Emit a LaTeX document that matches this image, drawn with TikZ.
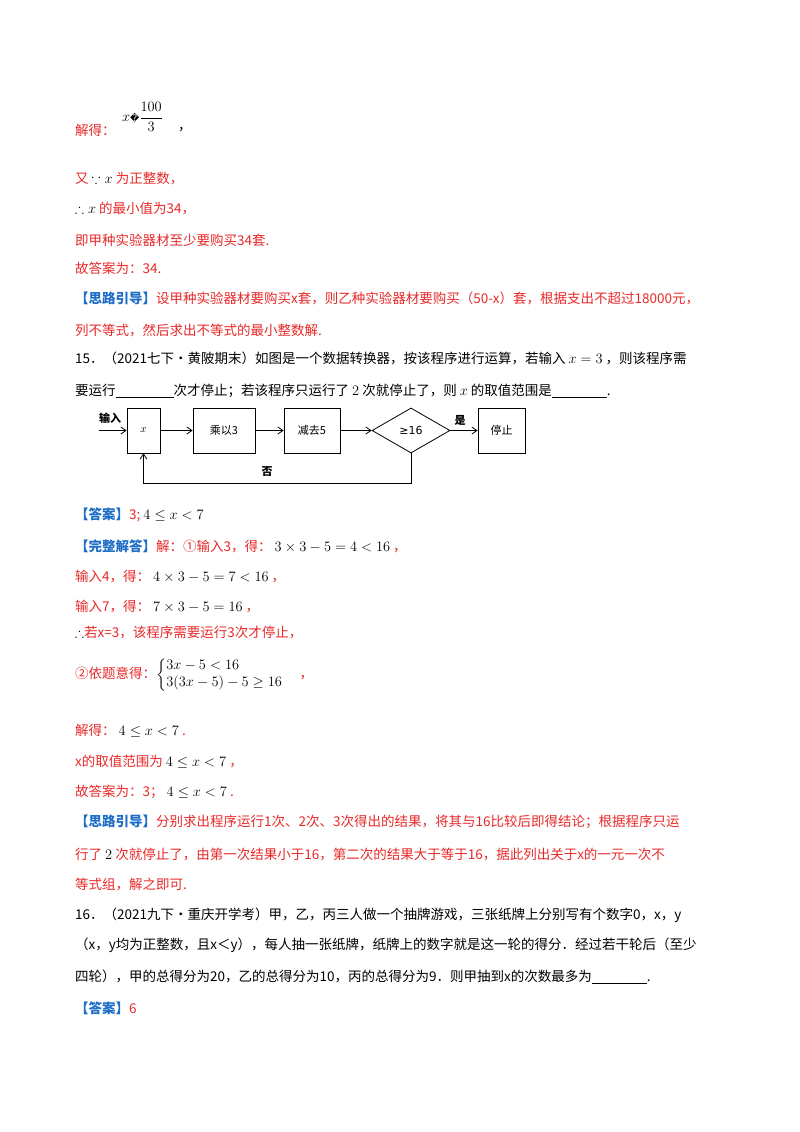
\documentclass[tikz,border=0pt]{standalone}
\usepackage{amsmath,amssymb}
\usepackage{fontspec}
\newfontfamily\cjk{Noto Sans CJK SC}
\newfontfamily\dejavu{DejaVu Sans}
\usetikzlibrary{shapes.geometric,arrows.meta}
\definecolor{rd}{RGB}{232,40,40}
\definecolor{bl}{RGB}{30,110,200}
\begin{document}
\begin{tikzpicture}[x=1pt,y=-1pt,
  t/.style={anchor=west,inner sep=0pt,font=\cjk\fontsize{13.5}{14}\selectfont},
  r/.style={t,text=rd},
  k/.style={t,text=black},
  box/.style={draw,line width=0.8pt,minimum height=45pt,inner sep=0pt,font=\cjk\fontsize{11}{12}\selectfont},
  arr/.style={-{Straight Barb[length=5pt,width=7pt]},line width=0.8pt}]
\useasboundingbox (0,0) rectangle (800,1132);
\node[r] (l1) at (75,130) {解得：};
\node[k,font=\fontsize{15}{16}\selectfont] (l1b) at (122,117) {$x$\dejavu{\small �}$\dfrac{100}{3}$};
\node[k] (l1c) at (178,130) {，};
\node[r] (l2) at (75,179) {又 {\color{black}$\because x$} 为正整数，};
\node[r] (l3) at (75,209) {{\color{black}$\therefore x$} 的最小值为34，};
\node[r] (l4) at (75,240) {即甲种实验器材至少要购买34套.};
\node[r] (l5) at (75,268) {故答案为：34.};
\node[r] (l6) at (75,298) {\textcolor{bl}{\textbf{【思路引导】}}设甲种实验器材要购买x套，则乙种实验器材要购买（50-x）套，根据支出不超过18000元，};
\node[r] (l7) at (75,330) {列不等式，然后求出不等式的最小整数解.};
\node[k] (l8) at (75,358) {15．（2021七下•黄陂期末）如图是一个数据转换器，按该程序进行运算，若输入 $x=3$ ，则该程序需};
\node[k] (l9) at (75,391) {要运行\underline{\hspace{58pt}}次才停止；若该程序只运行了 $2$ 次就停止了，则 $x$ 的取值范围是\underline{\hspace{55pt}}.};
% flowchart
\node[box,minimum width=33pt] (bx) at (143.5,430.5) {$x$};
\node[box,minimum width=62pt] (b3) at (224,430.5) {乘以3};
\node[box,minimum width=56pt] (b5) at (312,430.5) {减去5};
\node[draw,line width=0.8pt,diamond,aspect=1.75,minimum width=78pt,minimum height=45pt,inner sep=0pt,font=\cjk\fontsize{11}{12}\selectfont] (dm) at (411,430.5) {\dejavu ≥16};
\node[box,minimum width=47pt] (st) at (501.5,430.5) {停止};
\coordinate (in) at (99,430.5);
\coordinate (c1) at (411,483);
\coordinate (c2) at (143.5,483);
\draw[arr] (in) -- (bx.west);
\node[font=\cjk\bfseries\fontsize{11}{12}\selectfont] (lin) at (110,418) {输入};
\draw[arr] (bx) -- (b3);
\draw[arr] (b3) -- (b5);
\draw[arr] (b5) -- (dm);
\draw[arr] (dm) -- (st);
\node[font=\cjk\bfseries\fontsize{11}{12}\selectfont] (lyes) at (460,420) {是};
\draw[arr] (dm.south) -- (c1) -- (c2) -- (bx.south);
\node[font=\cjk\bfseries\fontsize{11}{12}\selectfont] (lno) at (267,472) {否};
% answers
\node[r] (a1) at (75,515) {\textcolor{bl}{\textbf{【答案】}}3; {\color{black}$4\le x<7$}};
\node[r] (a2) at (75,546) {\textcolor{bl}{\textbf{【完整解答】}}解：①输入3，得：\ {\color{black}$3\times3-5=4<16$} ，};
\node[r] (a3) at (75,577) {输入4，得：\ {\color{black}$4\times3-5=7<16$} ，};
\node[r] (a4) at (75,607) {输入7，得：\ {\color{black}$7\times3-5=16$} ，};
\node[r] (a5) at (75,633) {{\color{black}$\therefore$}若x=3，该程序需要运行3次才停止，};
\node[r] (a6) at (75,675) {②依题意得：{\color{black}$\begin{cases}3x-5<16\\3(3x-5)-5\ge16\end{cases}$} ，};
\node[r] (a7) at (75,731) {解得：\ {\color{black}$4\le x<7$} .};
\node[r] (a8) at (75,762) {x的取值范围为\ {\color{black}$4\le x<7$} ，};
\node[r] (a9) at (75,792) {故答案为：3；\ {\color{black}$4\le x<7$} .};
\node[r] (a10) at (75,822) {\textcolor{bl}{\textbf{【思路引导】}}分别求出程序运行1次、2次、3次得出的结果，将其与16比较后即得结论；根据程序只运};
\node[r] (a11) at (75,855) {行了 {\color{black}$2$} 次就停止了，由第一次结果小于16，第二次的结果大于等于16，据此列出关于x的一元一次不};
\node[r] (a12) at (75,885) {等式组，解之即可.};
\node[k] (q1) at (75,915) {16．（2021九下•重庆开学考）甲，乙，丙三人做一个抽牌游戏，三张纸牌上分别写有个数字0，x，y};
\node[k] (q2) at (75,945) {（x，y均为正整数，且x＜y），每人抽一张纸牌，纸牌上的数字就是这一轮的得分．经过若干轮后（至少};
\node[k] (q3) at (75,977) {四轮），甲的总得分为20，乙的总得分为10，丙的总得分为9．则甲抽到x的次数最多为\underline{\hspace{55pt}}.};
\node[r] (q4) at (75,1008) {\textcolor{bl}{\textbf{【答案】}}6};
\end{tikzpicture}
\end{document}
